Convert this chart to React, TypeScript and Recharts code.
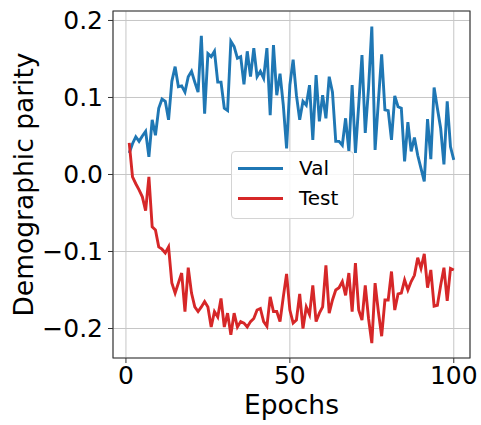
import React from 'react';
import { LineChart, Line, XAxis, YAxis, CartesianGrid, Legend, ReferenceArea, Label } from 'recharts';

const epochs = [
  1, 2, 3, 4, 5, 6, 7, 8, 9, 10, 11, 12, 13, 14, 15, 16, 17, 18, 19, 20,
  21, 22, 23, 24, 25, 26, 27, 28, 29, 30, 31, 32, 33, 34, 35, 36, 37, 38, 39, 40,
  41, 42, 43, 44, 45, 46, 47, 48, 49, 50, 51, 52, 53, 54, 55, 56, 57, 58, 59, 60,
  61, 62, 63, 64, 65, 66, 67, 68, 69, 70, 71, 72, 73, 74, 75, 76, 77, 78, 79, 80,
  81, 82, 83, 84, 85, 86, 87, 88, 89, 90, 91, 92, 93, 94, 95, 96, 97, 98, 99, 100,
];

const valParity = [
  0.028, 0.04, 0.049, 0.043, 0.05, 0.056, 0.023, 0.071, 0.051, 0.086,
  0.098, 0.095, 0.071, 0.121, 0.14, 0.114, 0.115, 0.107, 0.127, 0.134,
  0.12, 0.107, 0.18, 0.079, 0.157, 0.153, 0.16, 0.12, 0.12, 0.086,
  0.083, 0.173, 0.166, 0.151, 0.153, 0.117, 0.16, 0.127, 0.164, 0.127,
  0.134, 0.125, 0.164, 0.077, 0.168, 0.103, 0.131, 0.09, 0.034, 0.116,
  0.149, 0.103, 0.071, 0.095, 0.09, 0.116, 0.045, 0.129, 0.069, 0.103,
  0.073, 0.127, 0.107, 0.043, 0.043, 0.038, 0.073, 0.03, 0.116, 0.028,
  0.09, 0.155, 0.054, 0.112, 0.192, 0.032, 0.095, 0.156, 0.084, 0.083,
  0.045, 0.102, 0.088, 0.086, 0.017, 0.068, 0.03, 0.048, 0.025, 0.008,
  -0.009, 0.072, 0.02, 0.113, 0.086, 0.06, 0.013, 0.095, 0.036, 0.019,
];

const testParity = [
  0.041, -0.003, -0.012, -0.02, -0.029, -0.047, -0.003, -0.068, -0.072, -0.094,
  -0.097, -0.102, -0.094, -0.141, -0.154, -0.141, -0.128, -0.178, -0.121, -0.154,
  -0.172, -0.178, -0.172, -0.165, -0.172, -0.198, -0.178, -0.185, -0.161, -0.198,
  -0.18, -0.208, -0.18, -0.198, -0.191, -0.193, -0.198, -0.191, -0.187, -0.176,
  -0.174, -0.191, -0.197, -0.159, -0.178, -0.178, -0.191, -0.159, -0.129, -0.176,
  -0.193, -0.189, -0.155, -0.2, -0.172, -0.182, -0.144, -0.191, -0.18, -0.172,
  -0.118, -0.18, -0.163, -0.15, -0.147, -0.139, -0.157, -0.128, -0.178, -0.115,
  -0.176, -0.189, -0.144, -0.187, -0.219, -0.141, -0.178, -0.21, -0.163, -0.163,
  -0.126, -0.176, -0.155, -0.154, -0.137, -0.15, -0.139, -0.131, -0.108, -0.122,
  -0.103, -0.147, -0.124, -0.171, -0.17, -0.144, -0.121, -0.164, -0.122, -0.124,
];

const seriesNames = ['Val', 'Test'];
const xTicks = [0, 50, 100];
const yTicks = [-0.2, -0.1, 0.0, 0.1, 0.2];

const data = epochs.map((e, i) => ({ epoch: e, Val: valParity[i], Test: testParity[i] }));

const X_DOMAIN: [number, number] = [-3.95, 104.95];
const Y_DOMAIN: [number, number] = [-0.2383, 0.2123];
const FONT = '"DejaVu Sans", Verdana, sans-serif';
const COLORS: Record<string, string> = { Val: '#1f77b4', Test: '#d62728' };

const fmtY = (v: number) => {
  const s = Math.abs(v).toFixed(1);
  return v < -1e-9 ? '\u2212' + s : s;
};

const LegendBox = (props: any) => {
  const payload = (props.payload || []).slice().sort(
    (a: any, b: any) => seriesNames.indexOf(a.value) - seriesNames.indexOf(b.value)
  );
  return (
    <div
      style={{
        width: 121,
        height: 66,
        border: '1px solid #d4d4d4',
        borderRadius: 4,
        background: 'rgba(255,255,255,0.85)',
        position: 'relative',
        fontFamily: FONT,
      }}
    >
      {payload.map((p: any, i: number) => (
        <div
          key={p.value}
          style={{ position: 'absolute', left: 6, top: 5 + i * 30, height: 22, display: 'flex', alignItems: 'center' }}
        >
          <div style={{ width: 45, height: 3, background: p.color }} />
          <span style={{ marginLeft: 16, fontSize: 20, color: '#000', lineHeight: '22px', whiteSpace: 'nowrap' }}>
            {p.value}
          </span>
        </div>
      ))}
    </div>
  );
};

const YLabel = (props: any) => {
  const vb = props.viewBox || { x: 0, y: 0, width: 0, height: 0 };
  const cx = vb.x + 23.5;
  const cy = vb.y + vb.height / 2;
  return (
    <text
      x={cx}
      y={cy}
      transform={`rotate(-90, ${cx}, ${cy})`}
      textAnchor="middle"
      dominantBaseline="central"
      fontSize={26.5}
      fontFamily={FONT}
      fill="#000"
    >
      Demographic parity
    </text>
  );
};

const XLabel = (props: any) => {
  const vb = props.viewBox || { x: 0, y: 0, width: 0, height: 0 };
  return (
    <text
      x={vb.x + vb.width / 2}
      y={vb.y + 56}
      textAnchor="middle"
      fontSize={26.5}
      fontFamily={FONT}
      fill="#000"
    >
      Epochs
    </text>
  );
};

export default function App() {
  return (
    <div style={{ position: 'absolute', left: 0, top: 0, background: '#fff' }}>
      <LineChart
        width={481}
        height={425}
        data={data}
        margin={{ top: 11, right: 11, bottom: 0, left: 0 }}
        style={{ fontFamily: FONT }}
      >
        <CartesianGrid stroke="#c6c6c6" strokeWidth={1} />
        <XAxis
          dataKey="epoch"
          type="number"
          domain={X_DOMAIN}
          ticks={xTicks}
          allowDataOverflow
          height={67}
          axisLine={false}
          tickLine={{ stroke: '#333', strokeWidth: 1 }}
          tickSize={5}
          tickMargin={3}
          tick={{ fontSize: 25, fill: '#000', fontFamily: FONT }}
        >
          <Label content={<XLabel />} />
        </XAxis>
        <YAxis
          type="number"
          domain={Y_DOMAIN}
          ticks={yTicks}
          allowDataOverflow
          width={113}
          axisLine={false}
          tickLine={{ stroke: '#333', strokeWidth: 1 }}
          tickSize={5}
          tickMargin={5}
          tickFormatter={fmtY}
          tick={{ fontSize: 25, fill: '#000', fontFamily: FONT }}
        >
          <Label content={<YLabel />} />
        </YAxis>
        <ReferenceArea
          x1={X_DOMAIN[0]}
          x2={X_DOMAIN[1]}
          y1={Y_DOMAIN[0]}
          y2={Y_DOMAIN[1]}
          fill="none"
          fillOpacity={0}
          stroke="#333"
          strokeWidth={1.1}
          ifOverflow="visible"
        />
        <Line
          type="linear"
          dataKey="Val"
          name="Val"
          stroke={COLORS.Val}
          strokeWidth={2.9}
          dot={false}
          isAnimationActive={false}
        />
        <Line
          type="linear"
          dataKey="Test"
          name="Test"
          stroke={COLORS.Test}
          strokeWidth={2.9}
          dot={false}
          isAnimationActive={false}
        />
        <Legend
          layout="horizontal"
          verticalAlign="middle"
          align="center"
          content={<LegendBox />}
          wrapperStyle={{ left: 231, top: 151, width: 'auto', bottom: 'auto', right: 'auto' }}
        />
      </LineChart>
    </div>
  );
}
